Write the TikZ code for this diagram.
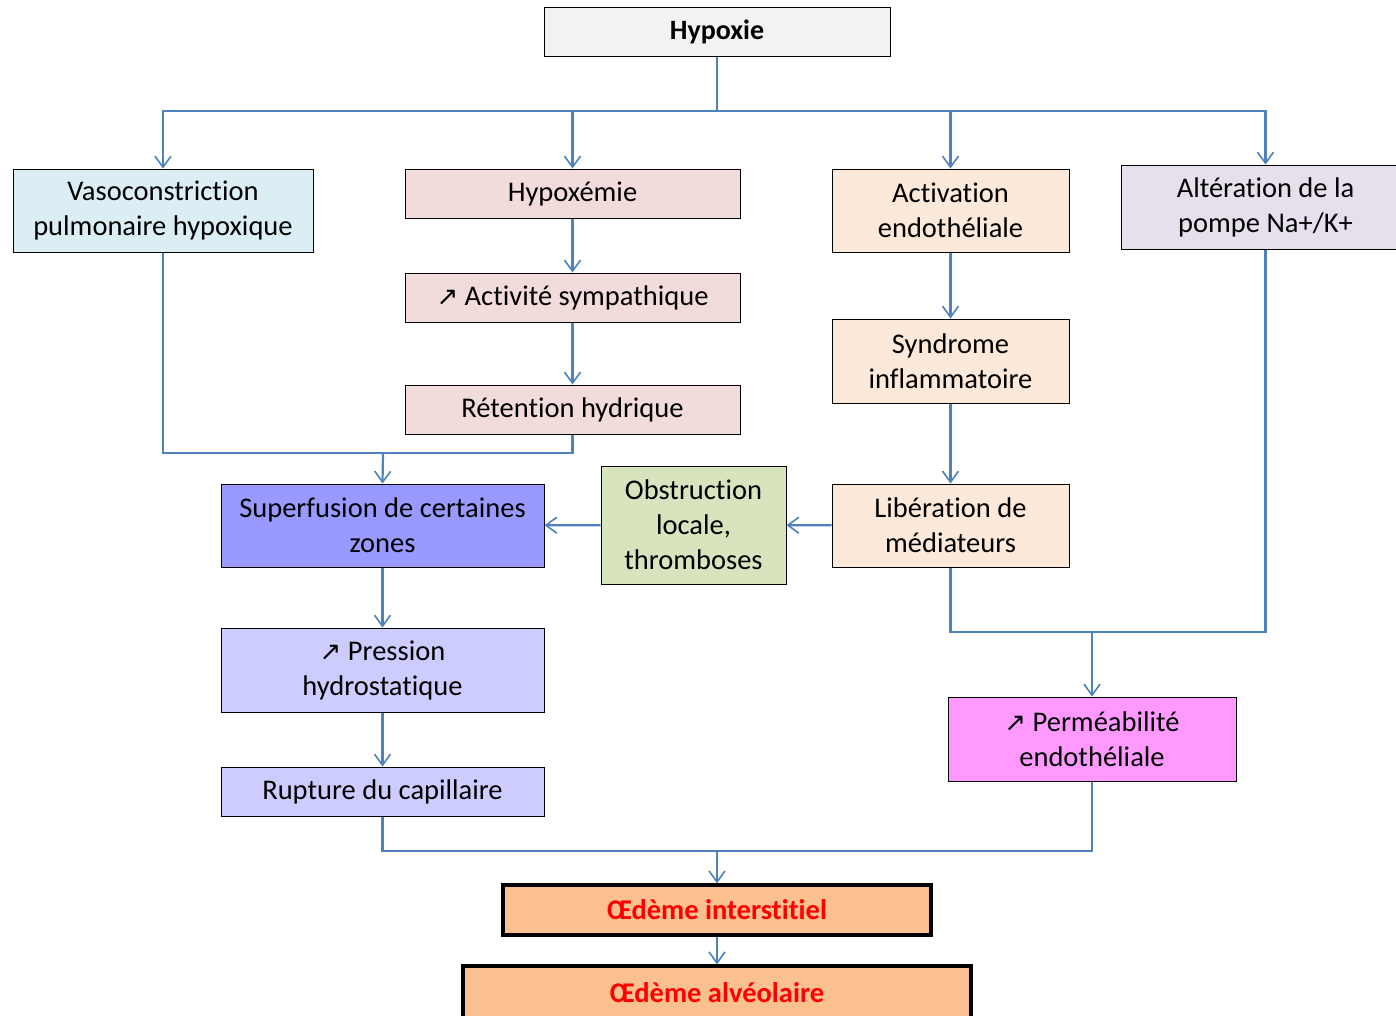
\documentclass[tikz,border=0pt]{standalone}
\usepackage{fontspec}
\setmainfont[Ligatures=NoCommon]{Carlito}
\newfontfamily\symf{DejaVu Sans}
\usetikzlibrary{arrows.meta}
\newcommand{\incr}{{\symf\fontsize{26}{30}\selectfont ↗}}
\definecolor{lc}{HTML}{4F81BD}
\tikzset{
  box/.style={draw=black, line width=1pt, align=center, inner sep=0pt,
    font=\fontsize{28.5}{35}\selectfont},
  thick box/.style={box, line width=3.4pt, font=\fontsize{28.5}{34}\selectfont\bfseries, text=red, fill=orange1},
  conn/.style={draw=lc, line width=2.2pt},
  arr/.style={conn, -{Straight Barb[length=11pt,width=16pt,line width=1.6pt]}},
}
\definecolor{gray1}{HTML}{F2F2F2}
\definecolor{blue1}{HTML}{DBEEF3}
\definecolor{rose1}{HTML}{F2DCDB}
\definecolor{peach1}{HTML}{FDE9D9}
\definecolor{lilac1}{HTML}{E5E0EC}
\definecolor{green1}{HTML}{D7E4BD}
\definecolor{vio1}{HTML}{9999FF}
\definecolor{vio2}{HTML}{CCCCFF}
\definecolor{pink1}{HTML}{FF99FF}
\definecolor{orange1}{HTML}{FAC090}
\begin{document}
\begin{tikzpicture}[x=1pt,y=-1pt]
\clip (0,0) rectangle (1396,1015);
\fill[white] (0,0) rectangle (1396,1015);
% nodes
\node[box, fill=gray1, minimum width=346pt, minimum height=49pt, font=\fontsize{28}{34}\selectfont\bfseries] (hyp) at (717,31.5) {Hypoxie};
\node[box, fill=blue1, minimum width=300pt, minimum height=83pt] (vaso) at (163,210.5) {Vasoconstriction\\pulmonaire hypoxique};
\node[box, fill=rose1, minimum width=335pt, minimum height=49pt] (hypox) at (572.5,193.5) {Hypoxémie};
\node[box, fill=rose1, minimum width=335pt, minimum height=49pt] (act) at (572.5,297.5) {\incr\ Activité sympathique};
\node[box, fill=rose1, minimum width=335pt, minimum height=49pt] (ret) at (572.5,409.5) {Rétention hydrique};
\node[box, fill=peach1, minimum width=237pt, minimum height=83pt] (actend) at (950.5,210.5) {Activation\\endothéliale};
\node[box, fill=peach1, minimum width=237pt, minimum height=84pt] (synd) at (950.5,361) {Syndrome\\inflammatoire};
\node[box, fill=peach1, minimum width=237pt, minimum height=83pt] (lib) at (950.5,525.5) {Libération de\\médiateurs};
\node[box, fill=lilac1, minimum width=289pt, minimum height=84pt] (alt) at (1265.5,207) {Altération de la\\pompe Na+/K+};
\node[box, fill=green1, minimum width=185pt, minimum height=118pt] (obs) at (693.5,525) {Obstruction\\locale,\\thromboses};
\node[box, fill=vio1, minimum width=323pt, minimum height=83pt] (sup) at (382.5,525.5) {Superfusion de certaines\\zones};
\node[box, fill=vio2, minimum width=323pt, minimum height=84pt] (pres) at (382.5,670) {\incr\ Pression\\hydrostatique};
\node[box, fill=vio2, minimum width=323pt, minimum height=49pt] (rup) at (382.5,791.5) {Rupture du capillaire};
\node[box, fill=pink1, minimum width=288pt, minimum height=84pt] (perm) at (1092,739) {\incr\ Perméabilité\\endothéliale};
\node[thick box, minimum width=428pt, minimum height=50pt] (oint) at (717,910) {Œdème interstitiel};
\node[thick box, minimum width=508pt, minimum height=54pt] (oalv) at (717,993) {Œdème alvéolaire};
% junction coordinates
\coordinate (b1) at (717,111);
\coordinate (b2) at (383,453);
\coordinate (b3) at (1092,632);
\coordinate (b4) at (717,851);
% connectors
\draw[conn] (hyp.south) -- (b1);
\draw[arr] (b1) -| (vaso.north);
\draw[arr] (b1) -| (hypox.north);
\draw[arr] (b1) -| (actend.north);
\draw[arr] (b1) -| (alt.north);
\draw[arr] (hypox) -- (act);
\draw[arr] (act) -- (ret);
\draw[conn] (vaso.south) |- (b2);
\draw[conn] (ret.south) |- (b2);
\draw[arr] (b2) -- (sup.north);
\draw[arr] (actend) -- (synd);
\draw[arr] (synd) -- (lib);
\draw[arr] (lib) -- (obs);
\draw[arr] (obs) -- (sup);
\draw[arr] (sup) -- (pres);
\draw[arr] (pres) -- (rup);
\draw[conn] (lib.south) |- (b3);
\draw[conn] (alt.south) |- (b3);
\draw[arr] (b3) -- (perm.north);
\draw[conn] (rup.south) |- (b4);
\draw[conn] (perm.south) |- (b4);
\draw[arr] (b4) -- (oint.north);
\draw[arr] (oint) -- (oalv);
\end{tikzpicture}
\end{document}
